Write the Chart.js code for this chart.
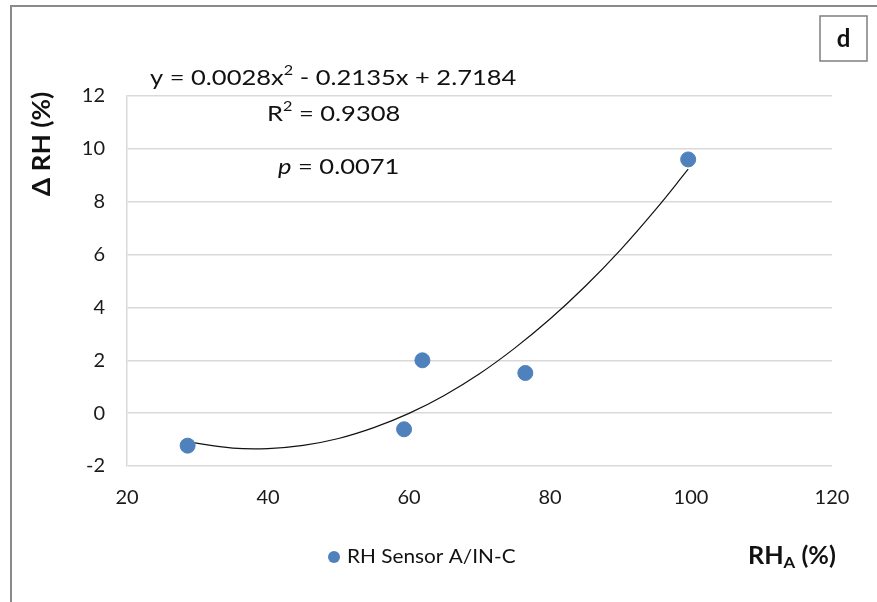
<!DOCTYPE html>
<html>
<head>
<meta charset="utf-8">
<script src="https://cdn.jsdelivr.net/npm/chart.js@4"></script>
<style>
  html, body { margin: 0; padding: 0; background: #fff; }
  #wrap { width: 877px; height: 602px; position: relative; }
</style>
</head>
<body>
<div id="wrap"><canvas id="chart" width="877" height="602"></canvas></div>
<script>
// ===== DATA =====
const sensorX = [28.6, 59.3, 61.9, 76.5, 99.6];
const sensorY = [-1.23, -0.61, 2.0, 1.52, 9.6];

// trend curve
const trendX = [28.6, 35, 40, 45, 50, 55, 60, 65, 70, 75, 80, 85, 90, 95, 99.6];
const trendY = [-1.09, -1.32, -1.34, -1.22, -0.96, -0.55, -0.01, 0.67, 1.49, 2.46, 3.56, 4.8, 6.18, 7.71, 9.23];

const xTicks = [20, 40, 60, 80, 100, 120];
const yTicks = [-2, 0, 2, 4, 6, 8, 10, 12];

const seriesName = "RH Sensor A/IN-C";
const FONT = "Lato, 'Open Sans', sans-serif";
const DOT = "#4f81bd";

// ===== HELPERS =====
function toPoints(xs, ys) {
    return xs.map((x, i) => ({ x: x, y: ys[i] }));
}

// text made of pieces (superscripts etc), stretched a bit sideways
function drawRich(ctx, parts, x, y, sx) {
    ctx.save();
    ctx.translate(x, y);
    ctx.scale(sx || 1, 1);
    let cx = 0;
    parts.forEach(p => {
        ctx.font = p.font;
        ctx.fillText(p.t, cx, p.dy || 0);
        cx += ctx.measureText(p.t).width;
    });
    ctx.restore();
}

// ===== DECORATION PLUGIN =====
const decor = {
    id: "decor",
    beforeDraw(chart) {
        const ctx = chart.ctx;
        ctx.save();
        ctx.fillStyle = "#fff";
        ctx.fillRect(0, 0, chart.width, chart.height);
        ctx.strokeStyle = "#8a8a8a";
        ctx.lineWidth = 2;
        ctx.beginPath();
        ctx.moveTo(11, 610);
        ctx.lineTo(11, 6);
        ctx.lineTo(890, 6);
        ctx.stroke();
        ctx.restore();
    },
    afterDraw(chart) {
        const ctx = chart.ctx;
        ctx.save();
        ctx.fillStyle = "#111";
        ctx.textBaseline = "middle";
        ctx.textAlign = "left";

        const reg = "22px " + FONT;
        const sml = "14px " + FONT;

        // equation
        drawRich(ctx, [
            { t: "y = 0.0028x", font: reg },
            { t: "2", font: sml, dy: -8 },
            { t: " - 0.2135x + 2.7184", font: reg }
        ], 150, 78, 1.16);

        // R squared
        drawRich(ctx, [
            { t: "R", font: reg },
            { t: "2", font: sml, dy: -8 },
            { t: " = 0.9308", font: reg }
        ], 267, 114, 1.16);

        // p value
        drawRich(ctx, [
            { t: "p", font: "italic 22px " + FONT },
            { t: " = 0.0071", font: reg }
        ], 278, 167, 1.16);

        // panel letter box
        ctx.strokeStyle = "#7f7f7f";
        ctx.lineWidth = 1.5;
        ctx.strokeRect(820, 16, 47, 45);
        ctx.font = "bold 24px " + FONT;
        ctx.textAlign = "center";
        ctx.fillText("d", 843.5, 39);

        // y axis title
        ctx.save();
        ctx.translate(42, 144);
        ctx.rotate(-Math.PI / 2);
        ctx.scale(1.1, 1);
        ctx.font = "bold 24px " + FONT;
        ctx.fillText("\u0394 RH (%)", 0, 0);
        ctx.restore();

        // x axis title
        ctx.textAlign = "left";
        drawRich(ctx, [
            { t: "RH", font: "bold 24px " + FONT },
            { t: "A", font: "bold 16px " + FONT, dy: 7 },
            { t: " (%)", font: "bold 24px " + FONT }
        ], 748, 556, 1.05);

        // legend
        ctx.fillStyle = DOT;
        ctx.beginPath();
        ctx.arc(334, 557, 6, 0, Math.PI * 2);
        ctx.fill();
        ctx.fillStyle = "#111";
        drawRich(ctx, [{ t: seriesName, font: "20px " + FONT }], 347, 557, 1.04);

        ctx.restore();
    }
};

// ===== CHART =====
new Chart(document.getElementById("chart"), {
    type: "scatter",
    data: {
        datasets: [
            {
                label: seriesName,
                data: toPoints(sensorX, sensorY),
                backgroundColor: DOT,
                borderColor: DOT,
                pointRadius: 7.5,
                pointHoverRadius: 7.5,
                order: 1
            },
            {
                label: "trend",
                type: "line",
                data: toPoints(trendX, trendY),
                borderColor: "#111",
                borderWidth: 1.2,
                pointRadius: 0,
                tension: 0.4,
                fill: false,
                order: 2
            }
        ]
    },
    options: {
        responsive: false,
        animation: false,
        events: [],
        layout: { padding: { left: 0, right: 45, top: 96, bottom: 86 } },
        plugins: {
            legend: { display: false },
            tooltip: { enabled: false }
        },
        scales: {
            x: {
                type: "linear",
                min: xTicks[0],
                max: xTicks[xTicks.length - 1],
                afterBuildTicks: s => { s.ticks = xTicks.map(v => ({ value: v })); },
                afterFit: s => { s.height = 50; },
                grid: { display: false, drawTicks: false },
                border: { display: false },
                ticks: {
                    padding: 20,
                    color: "#1a1a1a",
                    font: { family: FONT, size: 20 }
                }
            },
            y: {
                type: "linear",
                min: yTicks[0],
                max: yTicks[yTicks.length - 1],
                afterBuildTicks: s => { s.ticks = yTicks.map(v => ({ value: v })); },
                afterFit: s => { s.width = 127; },
                grid: { color: "#d9d9d9", lineWidth: 1.5, drawTicks: false },
                border: { display: true, color: "#d9d9d9", width: 1.5 },
                ticks: {
                    padding: 22,
                    color: "#1a1a1a",
                    font: { family: FONT, size: 20 }
                }
            }
        }
    },
    plugins: [decor]
});
</script>
</body>
</html>
